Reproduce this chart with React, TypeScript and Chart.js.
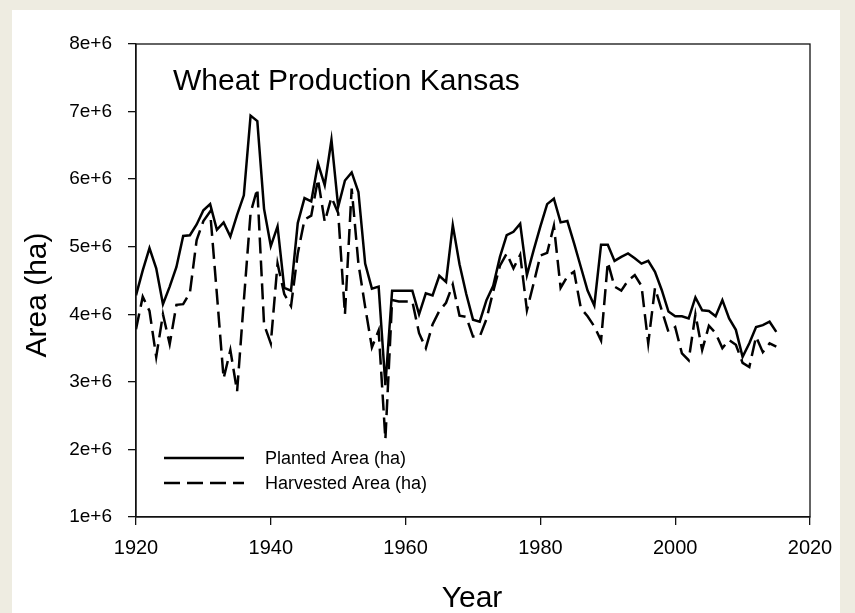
import React, { useEffect, useRef } from "react";
import { Chart, registerables } from "chart.js";

Chart.register(...registerables);

const years = [
  1920, 1921, 1922, 1923, 1924, 1925, 1926, 1927, 1928, 1929,
  1930, 1931, 1932, 1933, 1934, 1935, 1936, 1937, 1938, 1939,
  1940, 1941, 1942, 1943, 1944, 1945, 1946, 1947, 1948, 1949,
  1950, 1951, 1952, 1953, 1954, 1955, 1956, 1957, 1958, 1959,
  1960, 1961, 1962, 1963, 1964, 1965, 1966, 1967, 1968, 1969,
  1970, 1971, 1972, 1973, 1974, 1975, 1976, 1977, 1978, 1979,
  1980, 1981, 1982, 1983, 1984, 1985, 1986, 1987, 1988, 1989,
  1990, 1991, 1992, 1993, 1994, 1995, 1996, 1997, 1998, 1999,
  2000, 2001, 2002, 2003, 2004, 2005, 2006, 2007, 2008, 2009,
  2010, 2011, 2012, 2013, 2014, 2015,
];

const plantedArea = [
  4.28e6, 4.65e6, 4.98e6, 4.68e6, 4.15e6, 4.41e6, 4.70e6, 5.16e6, 5.17e6, 5.33e6,
  5.54e6, 5.63e6, 5.25e6, 5.36e6, 5.15e6, 5.47e6, 5.76e6, 6.94e6, 6.86e6, 5.56e6,
  5.01e6, 5.30e6, 4.39e6, 4.35e6, 5.35e6, 5.72e6, 5.67e6, 6.23e6, 5.91e6, 6.58e6,
  5.59e6, 5.98e6, 6.10e6, 5.81e6, 4.75e6, 4.38e6, 4.41e6, 2.95e6, 4.35e6, 4.35e6,
  4.35e6, 4.35e6, 4.00e6, 4.31e6, 4.28e6, 4.57e6, 4.48e6, 5.32e6, 4.74e6, 4.30e6,
  3.92e6, 3.89e6, 4.21e6, 4.42e6, 4.85e6, 5.17e6, 5.22e6, 5.34e6, 4.58e6, 4.95e6,
  5.30e6, 5.63e6, 5.71e6, 5.36e6, 5.38e6, 5.05e6, 4.70e6, 4.35e6, 4.13e6, 5.03e6,
  5.03e6, 4.79e6, 4.85e6, 4.90e6, 4.83e6, 4.75e6, 4.79e6, 4.63e6, 4.36e6, 4.04e6,
  3.97e6, 3.97e6, 3.94e6, 4.25e6, 4.06e6, 4.05e6, 3.97e6, 4.21e6, 3.94e6, 3.77e6,
  3.37e6, 3.57e6, 3.81e6, 3.84e6, 3.89e6, 3.74e6,
];

const harvestedArea = [
  3.78e6, 4.26e6, 4.05e6, 3.37e6, 4.00e6, 3.56e6, 4.14e6, 4.15e6, 4.32e6, 5.10e6,
  5.38e6, 5.52e6, 4.30e6, 3.05e6, 3.47e6, 2.86e6, 4.20e6, 5.50e6, 5.86e6, 3.85e6,
  3.57e6, 4.75e6, 4.30e6, 4.12e6, 4.90e6, 5.40e6, 5.46e6, 6.00e6, 5.37e6, 5.73e6,
  5.50e6, 4.00e6, 5.86e6, 4.75e6, 4.11e6, 3.51e6, 3.76e6, 2.15e6, 4.21e6, 4.19e6,
  4.19e6, 4.19e6, 3.72e6, 3.50e6, 3.85e6, 4.05e6, 4.17e6, 4.44e6, 3.98e6, 3.96e6,
  3.67e6, 3.67e6, 3.93e6, 4.34e6, 4.72e6, 4.90e6, 4.68e6, 4.88e6, 4.06e6, 4.46e6,
  4.87e6, 4.91e6, 5.31e6, 4.39e6, 4.56e6, 4.63e6, 4.09e6, 3.97e6, 3.82e6, 3.61e6,
  4.77e6, 4.41e6, 4.35e6, 4.50e6, 4.58e6, 4.42e6, 3.57e6, 4.39e6, 4.06e6, 3.74e6,
  3.81e6, 3.42e6, 3.32e6, 4.00e6, 3.47e6, 3.83e6, 3.72e6, 3.50e6, 3.62e6, 3.55e6,
  3.28e6, 3.22e6, 3.67e6, 3.44e6, 3.57e6, 3.52e6,
];

const xTicks = [1920, 1940, 1960, 1980, 2000, 2020];
const yTicks = [1e6, 2e6, 3e6, 4e6, 5e6, 6e6, 7e6, 8e6];

const chartTitle = "Wheat Production Kansas";
const xTitle = "Year";
const yTitle = "Area (ha)";
const seriesNames = ["Planted Area (ha)", "Harvested Area (ha)"];

const FONT = "'Liberation Sans', Arial, Helvetica, sans-serif";
const DASH = [16, 7];

const overlayPlugin = {
  id: "overlay",
  afterDraw(chart: any) {
    const { ctx, chartArea } = chart;
    const { left, right, top, bottom } = chartArea;
    ctx.save();
    // frame
    ctx.strokeStyle = "#111";
    ctx.lineWidth = 1.3;
    ctx.strokeRect(left, top, right - left, bottom - top);

    ctx.fillStyle = "#000";
    // chart title inside plot
    ctx.font = `30px ${FONT}`;
    ctx.textAlign = "left";
    ctx.textBaseline = "alphabetic";
    ctx.fillText(chartTitle, left + 37, top + 46);

    // x title
    ctx.textAlign = "center";
    ctx.fillText(xTitle, (left + right) / 2 - 1, 597);

    // y title
    ctx.save();
    ctx.translate(34, 285);
    ctx.rotate(-Math.PI / 2);
    ctx.textAlign = "center";
    ctx.textBaseline = "alphabetic";
    ctx.fillText(yTitle, 0, 0);
    ctx.restore();

    // legend
    const lx0 = left + 28;
    const lx1 = left + 108;
    const tx = left + 129;
    const ly = [bottom - 59, bottom - 34];
    ctx.strokeStyle = "#000";
    ctx.lineWidth = 2.5;
    ctx.font = `18px ${FONT}`;
    ctx.textAlign = "left";
    ctx.textBaseline = "middle";
    for (let i = 0; i < 2; i++) {
      ctx.setLineDash(i === 0 ? [] : DASH);
      ctx.beginPath();
      ctx.moveTo(lx0, ly[i]);
      ctx.lineTo(lx1, ly[i]);
      ctx.stroke();
      ctx.setLineDash([]);
      ctx.fillText(seriesNames[i], tx, ly[i] + 1);
    }
    ctx.restore();
  },
};

export default function App() {
  const canvasRef = useRef<HTMLCanvasElement | null>(null);

  useEffect(() => {
    const canvas = canvasRef.current;
    if (!canvas) return;
    const chart = new Chart(canvas, {
      type: "line",
      data: {
        datasets: [
          {
            label: seriesNames[0],
            data: years.map((yr, i) => ({ x: yr, y: plantedArea[i] })),
            borderColor: "#000",
            borderWidth: 2.5,
            pointRadius: 0,
            tension: 0,
            fill: false,
          },
          {
            label: seriesNames[1],
            data: years.map((yr, i) => ({ x: yr, y: harvestedArea[i] })),
            borderColor: "#000",
            borderWidth: 2.5,
            borderDash: DASH,
            pointRadius: 0,
            tension: 0,
            fill: false,
          },
        ],
      },
      options: {
        animation: false,
        responsive: false,
        maintainAspectRatio: false,
        devicePixelRatio: 1,
        layout: { padding: { left: 0, right: 30, top: 34, bottom: 1 } },
        plugins: {
          legend: { display: false },
          tooltip: { enabled: false },
          title: { display: false },
        },
        scales: {
          x: {
            type: "linear",
            min: xTicks[0],
            max: xTicks[xTicks.length - 1],
            afterBuildTicks: (s: any) => {
              s.ticks = xTicks.map((v) => ({ value: v }));
            },
            ticks: {
              color: "#000",
              font: { family: FONT, size: 20 },
              padding: 11,
              maxRotation: 0,
              callback: (v: any) => String(v),
            },
            grid: {
              drawOnChartArea: false,
              drawTicks: true,
              tickLength: 8,
              color: "#111",
              lineWidth: 1.3,
            },
            border: { display: true, color: "#111", width: 1.3 },
            afterFit: (s: any) => {
              s.height = 95;
              s.paddingLeft = 0;
              s.paddingRight = 0;
            },
          },
          y: {
            type: "linear",
            min: yTicks[0],
            max: yTicks[yTicks.length - 1],
            afterBuildTicks: (s: any) => {
              s.ticks = yTicks.map((v) => ({ value: v }));
            },
            ticks: {
              color: "#000",
              font: { family: FONT, size: 19 },
              padding: 16,
              callback: (v: any) => `${Math.round(Number(v) / 1e6)}e+6`,
            },
            grid: {
              drawOnChartArea: false,
              drawTicks: true,
              tickLength: 8,
              color: "#111",
              lineWidth: 1.3,
            },
            border: { display: true, color: "#111", width: 1.3 },
            afterFit: (s: any) => {
              s.width = 124;
              s.paddingTop = 0;
              s.paddingBottom = 0;
            },
          },
        },
      },
      plugins: [overlayPlugin],
    });
    return () => chart.destroy();
  }, []);

  return (
    <div
      style={{
        position: "fixed",
        left: 0,
        top: 0,
        width: 855,
        height: 613,
        background: "#eeece1",
        overflow: "hidden",
      }}
    >
      <div
        style={{
          position: "absolute",
          left: 12,
          top: 10,
          width: 828,
          height: 603,
          background: "#ffffff",
        }}
      >
        <canvas ref={canvasRef} width={828} height={603} style={{ display: "block" }} />
      </div>
    </div>
  );
}
